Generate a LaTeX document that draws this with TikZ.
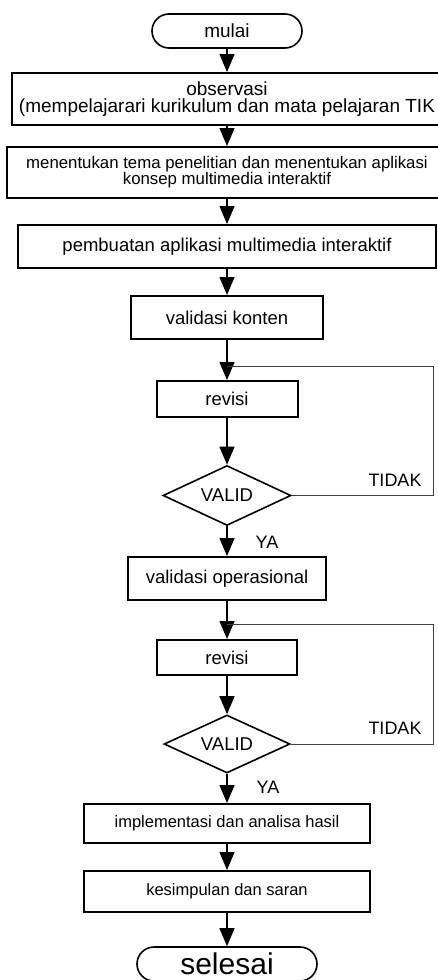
\documentclass[tikz,border=0pt]{standalone}
\usepackage{fontspec}
\setmainfont{Liberation Sans}
\usetikzlibrary{arrows.meta,shapes.geometric}
\begin{document}
\begin{tikzpicture}[x=1pt,y=-1pt,
  box/.style={draw, line width=2pt, align=center, inner sep=0pt, font=\fontsize{18.5}{18}\selectfont},
  term/.style={draw, line width=1.6pt, inner sep=0pt},
  dec/.style={draw, diamond, aspect=2, line width=1.6pt, inner sep=0pt, minimum width=128pt, minimum height=60pt, font=\fontsize{18.5}{18}\selectfont},
  conn/.style={line width=1.3pt, -{Triangle[width=15pt,length=18pt]}},
  loopline/.style={draw=black!75, line width=1pt},
  lbl/.style={inner sep=0pt, font=\fontsize{18}{18}\selectfont}
]
\useasboundingbox (0,0) rectangle (438,980);
\clip (0,0) rectangle (438,980);
\fill[white] (0,0) rectangle (438,980);
% nodes
\node[term, rounded corners=17pt, minimum width=150pt, minimum height=34pt, font=\fontsize{19}{19}\selectfont] (mulai) at (227,31) {mulai};
\node[box, minimum width=430pt, minimum height=52pt, font=\fontsize{19}{17.5}\selectfont] (obs) at (227,99) {observasi\\(mempelajarari kurikulum dan mata pelajaran TIK};
\node[box, minimum width=441pt, minimum height=51pt, font=\fontsize{16.8}{16}\selectfont] (tema) at (227,172.5) {menentukan tema penelitian dan menentukan aplikasi\\konsep multimedia interaktif};
\node[box, minimum width=418pt, minimum height=43pt] (buat) at (227,246.5) {pembuatan aplikasi multimedia interaktif};
\node[box, minimum width=192pt, minimum height=43pt] (vk) at (227,317.5) {validasi konten};
\node[box, minimum width=141pt, minimum height=36pt] (rev1) at (227,399) {revisi};
\node[dec] (d1) at (227,495.5) {VALID};
\node[box, minimum width=198pt, minimum height=43pt] (vo) at (227,578.5) {validasi operasional};
\node[box, minimum width=140pt, minimum height=35pt] (rev2) at (227,657.5) {revisi};
\node[dec, minimum width=126pt, minimum height=58pt] (d2) at (227,744) {VALID};
\node[box, minimum width=286pt, minimum height=39pt, font=\fontsize{16.5}{16}\selectfont] (impl) at (227,823.5) {implementasi dan analisa hasil};
\node[box, minimum width=286pt, minimum height=41pt, font=\fontsize{16.5}{16}\selectfont] (kes) at (227,891.5) {kesimpulan dan saran};
\node[term, rounded corners=17pt, minimum width=180pt, minimum height=34pt, font=\fontsize{30}{30}\selectfont] (selesai) at (227,964) {selesai};
% labels
\node[lbl] (t1) at (395,480) {TIDAK};
\node[lbl] (y1) at (267,542) {YA};
\node[lbl] (t2) at (395,728) {TIDAK};
\node[lbl] (y2) at (268,787) {YA};
% loop coordinates
\coordinate (j1) at (227,366);
\coordinate (r1) at (433,366);
\coordinate (j2) at (227,624);
\coordinate (r2) at (433,624);
% connectors
\draw[conn] (mulai.south) -- (obs.north);
\draw[conn] (obs.south) -- (tema.north);
\draw[conn] (tema.south) -- (buat.north);
\draw[conn] (buat.south) -- (vk.north);
\draw[conn] (vk.south) -- (rev1.north);
\draw[conn] (rev1.south) -- (d1.north);
\draw[conn] (d1.south) -- (vo.north);
\draw[conn] (vo.south) -- (rev2.north);
\draw[conn] (rev2.south) -- (d2.north);
\draw[conn] (d2.south) -- (impl.north);
\draw[conn] (impl.south) -- (kes.north);
\draw[conn] (kes.south) -- (selesai.north);
% loops
\draw[loopline] (d1.east) -| (r1) -- (j1);
\draw[loopline] (d2.east) -| (r2) -- (j2);
\end{tikzpicture}
\end{document}
